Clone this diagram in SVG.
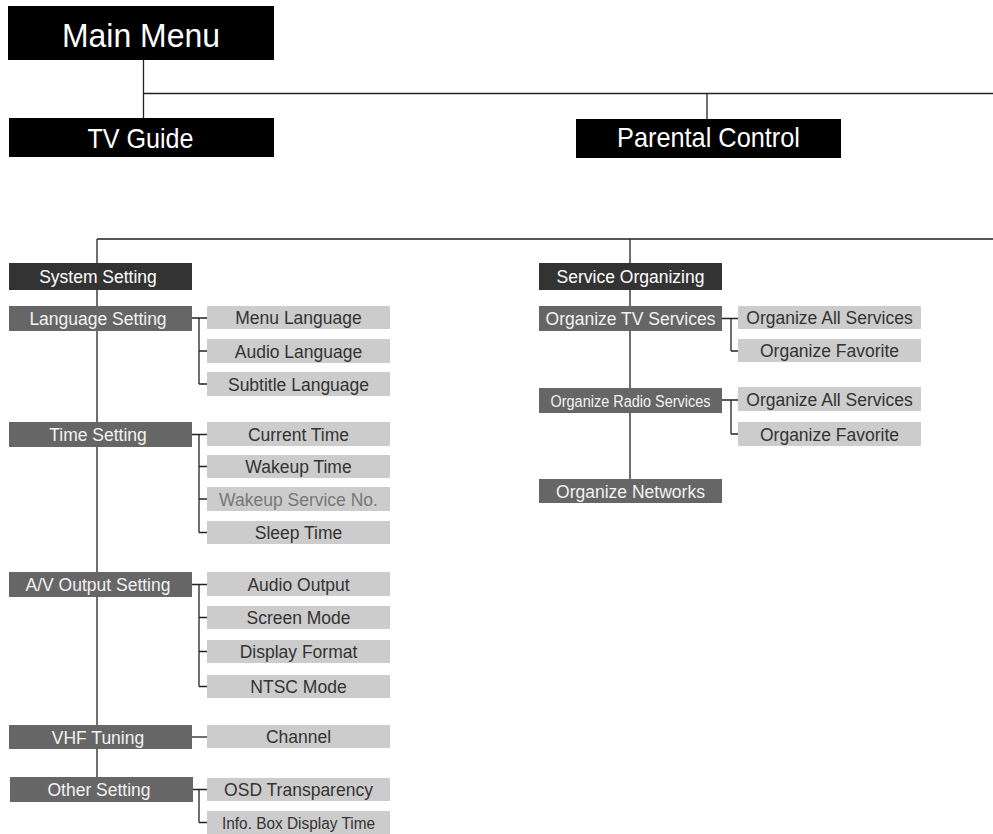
<svg xmlns="http://www.w3.org/2000/svg" width="993" height="834" viewBox="0 0 993 834">
<style>
text{font-family:"Liberation Sans",Arial,sans-serif;text-anchor:middle}
.top rect{fill:#000}
.top text{fill:#fff}
.l1 rect{fill:#333}
.l1 text{fill:#fff;font-size:17.5px}
.l2 rect{fill:#666}
.l2 text{fill:#f2f2f2;font-size:17.5px}
.l3 rect{fill:#ccc}
.l3 text{fill:#333;font-size:17.5px}
.dim text{fill:#777}
#connectors path{fill:none;stroke:#222;stroke-width:1.3}
</style>
<rect width="993" height="834" fill="#fff"/>
<g id="connectors">
<path d="M143.5,60V118M143.5,93.5H993M707,93.5V119"/>
<path d="M97,239H993M97,239V777M630,239V479"/>
<path d="M192,318H199M199,318V384M199,318H207M199,351H207M199,384H207"/>
<path d="M192,434.5H199M199,434.5V532.5M199,434.5H207M199,466.5H207M199,499H207M199,532.5H207"/>
<path d="M192,584.5H199M199,584.5V686.5M199,584.5H207M199,617.5H207M199,651.5H207M199,686.5H207"/>
<path d="M192,737H207"/>
<path d="M193,789.5H199M199,789.5V822.5M199,789.5H207M199,822.5H207"/>
<path d="M722,318.5H731M731,318.5V351M731,318.5H738M731,351H738"/>
<path d="M722,400H731M731,400V434M731,400H738M731,434H738"/>
</g>
<g id="main-menu" class="top"><rect x="8" y="6" width="266" height="54"/><text x="141" y="47" font-size="34" textLength="158" lengthAdjust="spacingAndGlyphs">Main Menu</text></g>
<g id="tv-guide" class="top"><rect x="9" y="118" width="265" height="39"/><text x="140.5" y="148" font-size="28" textLength="106" lengthAdjust="spacingAndGlyphs">TV Guide</text></g>
<g id="parental-control" class="top"><rect x="576" y="119" width="265" height="39"/><text x="708.5" y="147" font-size="28" textLength="183" lengthAdjust="spacingAndGlyphs">Parental Control</text></g>

<g id="system-setting" class="l1"><rect x="9" y="263" width="183" height="27"/><text x="98" y="283">System Setting</text></g>
<g id="language-setting" class="l2"><rect x="9" y="306" width="183" height="25"/><text x="98" y="325">Language Setting</text></g>
<g id="menu-language" class="l3"><rect x="207" y="306" width="183" height="23"/><text x="298.5" y="324">Menu Language</text></g>
<g id="audio-language" class="l3"><rect x="207" y="339" width="183" height="24"/><text x="298.5" y="357.5">Audio Language</text></g>
<g id="subtitle-language" class="l3"><rect x="207" y="372" width="183" height="24"/><text x="298.5" y="390.5">Subtitle Language</text></g>

<g id="time-setting" class="l2"><rect x="9" y="422" width="183" height="25"/><text x="98" y="441">Time Setting</text></g>
<g id="current-time" class="l3"><rect x="207" y="422" width="183" height="24"/><text x="298.5" y="440.5">Current Time</text></g>
<g id="wakeup-time" class="l3"><rect x="207" y="455" width="183" height="23"/><text x="298.5" y="473">Wakeup Time</text></g>
<g id="wakeup-service" class="l3 dim"><rect x="207" y="487" width="183" height="24"/><text x="298.5" y="505.5">Wakeup Service No.</text></g>
<g id="sleep-time" class="l3"><rect x="207" y="521" width="183" height="23"/><text x="298.5" y="539">Sleep Time</text></g>

<g id="av-output-setting" class="l2"><rect x="9" y="572" width="183" height="25"/><text x="98" y="591">A/V Output Setting</text></g>
<g id="audio-output" class="l3"><rect x="207" y="572" width="183" height="24"/><text x="298.5" y="590.5">Audio Output</text></g>
<g id="screen-mode" class="l3"><rect x="207" y="606" width="183" height="23"/><text x="298.5" y="624">Screen Mode</text></g>
<g id="display-format" class="l3"><rect x="207" y="640" width="183" height="23"/><text x="298.5" y="658">Display Format</text></g>
<g id="ntsc-mode" class="l3"><rect x="207" y="675" width="183" height="23"/><text x="298.5" y="693">NTSC Mode</text></g>

<g id="vhf-tuning" class="l2"><rect x="9" y="725" width="183" height="24"/><text x="98" y="743.5">VHF Tuning</text></g>
<g id="channel" class="l3"><rect x="207" y="725" width="183" height="23"/><text x="298.5" y="743">Channel</text></g>

<g id="other-setting" class="l2"><rect x="10" y="777" width="183" height="25"/><text x="99" y="796">Other Setting</text></g>
<g id="osd-transparency" class="l3"><rect x="207" y="778" width="183" height="23"/><text x="298.5" y="796">OSD Transparency</text></g>
<g id="info-box-display-time" class="l3"><rect x="207" y="811" width="183" height="23"/><text x="298.5" y="829" style="font-size:16px" textLength="153" lengthAdjust="spacingAndGlyphs">Info. Box Display Time</text></g>

<g id="service-organizing" class="l1"><rect x="539" y="263" width="183" height="27"/><text x="630.5" y="283">Service Organizing</text></g>
<g id="organize-tv-services" class="l2"><rect x="539" y="306" width="183" height="25"/><text x="630.5" y="325">Organize TV Services</text></g>
<g id="tv-all-services" class="l3"><rect x="738" y="306" width="183" height="23"/><text x="829.5" y="324">Organize All Services</text></g>
<g id="tv-favorite" class="l3"><rect x="738" y="339" width="183" height="23"/><text x="829.5" y="357">Organize Favorite</text></g>
<g id="organize-radio-services" class="l2"><rect x="539" y="388" width="183" height="25"/><text x="630.5" y="406.5" style="font-size:16px" textLength="160" lengthAdjust="spacingAndGlyphs">Organize Radio Services</text></g>
<g id="radio-all-services" class="l3"><rect x="738" y="387" width="183" height="24"/><text x="829.5" y="405.5">Organize All Services</text></g>
<g id="radio-favorite" class="l3"><rect x="738" y="422" width="183" height="24"/><text x="829.5" y="440.5">Organize Favorite</text></g>
<g id="organize-networks" class="l2"><rect x="539" y="479" width="183" height="24"/><text x="630.5" y="497.5">Organize Networks</text></g>
</svg>
